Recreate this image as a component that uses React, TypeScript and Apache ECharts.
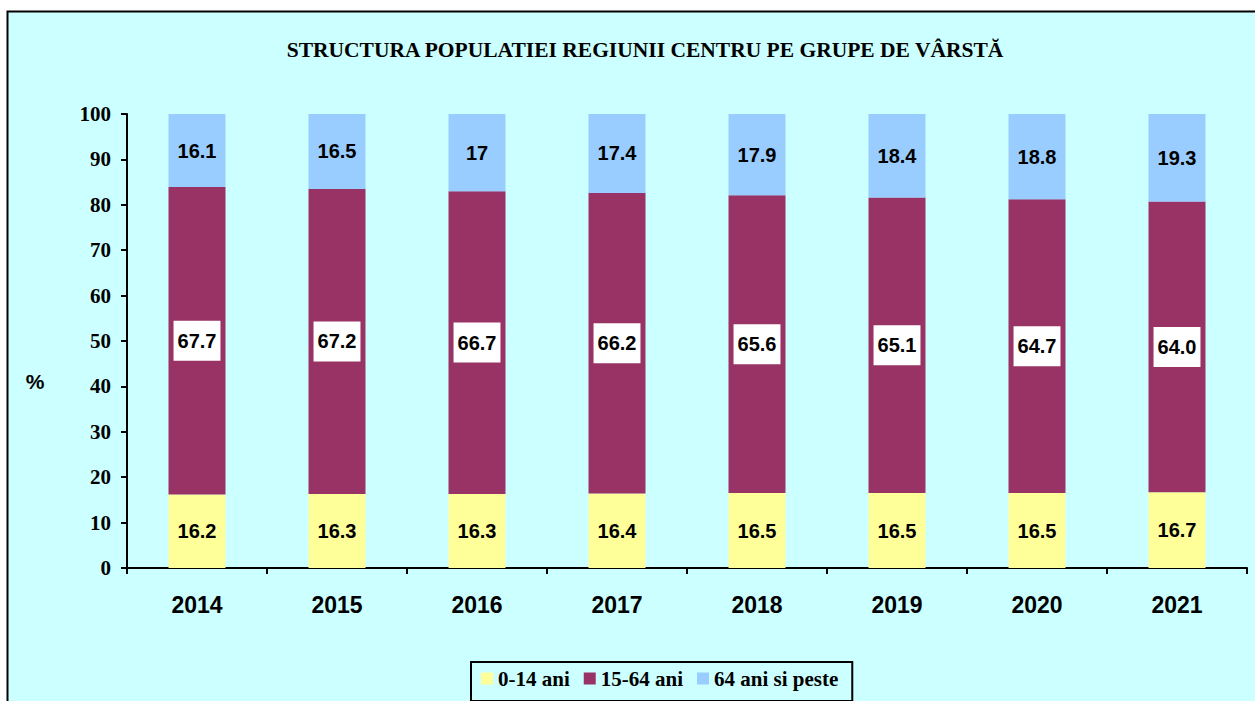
import React, { useEffect, useRef } from "react";
import * as echarts from "echarts";

const years = ["2014", "2015", "2016", "2017", "2018", "2019", "2020", "2021"];
const age0_14 = [16.2, 16.3, 16.3, 16.4, 16.5, 16.5, 16.5, 16.7];
const age15_64 = [67.7, 67.2, 66.7, 66.2, 65.6, 65.1, 64.7, 64.0];
const age65plus = [16.1, 16.5, 17, 17.4, 17.9, 18.4, 18.8, 19.3];
const seriesNames = ["0-14 ani", "15-64 ani", "64 ani si peste"];
const titleText = "STRUCTURA POPULATIEI REGIUNII CENTRU PE GRUPE DE VÂRSTĂ";

export default function App() {
  const ref = useRef<HTMLDivElement>(null);
  useEffect(() => {
    if (!ref.current) return;
    const chart = echarts.init(ref.current, null, { renderer: "svg" });
    const serif = "'Liberation Serif', 'Times New Roman', serif";
    const sans = "'Liberation Sans', Arial, sans-serif";
    const labelBase = {
      show: true,
      position: "inside",
      color: "#000",
      fontFamily: sans,
      fontWeight: "bold",
      fontSize: 20,
    };
    chart.setOption({
      animation: false,
      backgroundColor: "#fff",
      graphic: [
        {
          type: "rect",
          z: -10,
          shape: { x: 7.5, y: 11.5, width: 1260, height: 700 },
          style: { fill: "#CCFFFF", stroke: "#000", lineWidth: 2 },
          silent: true,
        },
        {
          type: "text",
          x: 35,
          y: 381,
          style: {
            text: "%",
            fontFamily: sans,
            fontWeight: "bold",
            fontSize: 21,
            fill: "#000",
            textAlign: "center",
            textVerticalAlign: "middle",
          },
        },
      ],
      title: {
        text: titleText,
        left: 640,
        top: 34,
        textAlign: "center",
        textStyle: { fontFamily: serif, fontWeight: "bold", fontSize: 21.5, color: "#000" },
      },
      legend: {
        data: seriesNames,
        left: 471,
        top: 662,
        padding: [6, 14, 12, 10],
        itemGap: 14,
        itemWidth: 12,
        itemHeight: 12,
        icon: "rect",
        borderColor: "#000",
        borderWidth: 2,
        backgroundColor: "#CCFFFF",
        textStyle: { fontFamily: serif, fontWeight: "bold", fontSize: 21, color: "#000" },
      },
      grid: { left: 127, right: 8, top: 114, bottom: 133, containLabel: false },
      xAxis: {
        type: "category",
        data: years,
        axisLine: { lineStyle: { color: "#000", width: 2 } },
        axisTick: { show: true, length: 6, lineStyle: { color: "#000", width: 2 } },
        axisLabel: {
          margin: 25,
          fontFamily: sans,
          fontWeight: "bold",
          fontSize: 23,
          color: "#000",
        },
      },
      yAxis: {
        type: "value",
        min: 0,
        max: 100,
        interval: 10,
        splitLine: { show: false },
        axisLine: { show: true, lineStyle: { color: "#000", width: 2 } },
        axisTick: { show: true, length: 6, lineStyle: { color: "#000", width: 2 } },
        axisLabel: {
          margin: 16,
          fontFamily: serif,
          fontWeight: "bold",
          fontSize: 21,
          color: "#000",
        },
      },
      series: [
        {
          name: seriesNames[0],
          type: "bar",
          stack: "total",
          barWidth: 57,
          data: age0_14,
          itemStyle: { color: "#FFFF99" },
          label: { ...labelBase, formatter: (p: any) => Number(p.value).toFixed(1) },
        },
        {
          name: seriesNames[1],
          type: "bar",
          stack: "total",
          barWidth: 57,
          data: age15_64,
          itemStyle: { color: "#993366" },
          label: {
            ...labelBase,
            backgroundColor: "#fff",
            padding: [10, 4, 10, 4],
            formatter: (p: any) => Number(p.value).toFixed(1),
          },
        },
        {
          name: seriesNames[2],
          type: "bar",
          stack: "total",
          barWidth: 57,
          data: age65plus,
          itemStyle: { color: "#99CCFF" },
          label: { ...labelBase, formatter: (p: any) => String(p.value) },
        },
      ],
    });
    return () => chart.dispose();
  }, []);
  return (
    <div
      ref={ref}
      style={{ position: "fixed", left: 0, top: 0, width: 1255, height: 701 }}
    />
  );
}
